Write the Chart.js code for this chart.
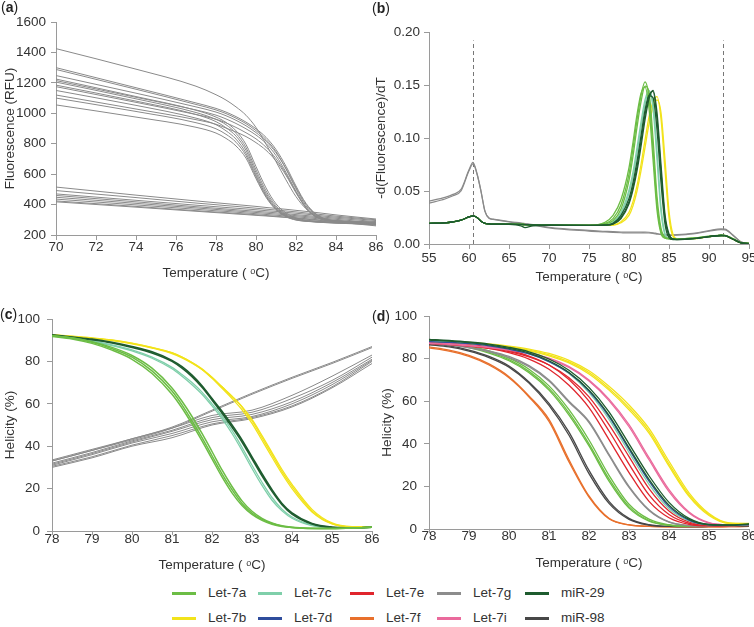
<!DOCTYPE html>
<html>
<head>
<meta charset="utf-8">
<script src="https://cdn.jsdelivr.net/npm/chart.js@4/dist/chart.umd.min.js"></script>
<style>
body { margin: 0; background: #fff; font-family: "Liberation Sans", Arial, sans-serif; }
#fig { position: relative; width: 754px; height: 627px; overflow: hidden; background: #fff; }
canvas { position: absolute; }
.tag { position: absolute; font-size: 14px; line-height: 14px; color: #222; }
.legLine { position: absolute; height: 3px; width: 24px; }
.legText { position: absolute; font-size: 13.5px; line-height: 16px; color: #333; }
</style>
</head>
<body>
<div id="fig">
  <canvas id="panelA" width="392" height="281" style="left:0;top:0"></canvas>
  <canvas id="panelB" width="390" height="285" style="left:373px;top:0"></canvas>
  <canvas id="panelC" width="392" height="283" style="left:0;top:290px"></canvas>
  <canvas id="panelD" width="390" height="281" style="left:373px;top:290px"></canvas>
  <div class="tag" style="left:1px;top:0px">(<b>a</b>)</div>
  <div class="tag" style="left:372px;top:1px">(<b>b</b>)</div>
  <div class="tag" style="left:0px;top:307px">(<b>c</b>)</div>
  <div class="tag" style="left:372px;top:309px">(<b>d</b>)</div>
  <div id="legend"></div>
</div>
<script>
// ---- (a) raw melting curves, fluorescence vs temperature
const aTemp = [70, 74, 77, 78, 78.5, 79, 79.5, 80, 80.5, 81, 81.5, 82, 82.5, 83, 83.5, 84, 86];
const aTop = [1425, 1290, 1178, 1122, 1087, 1042, 987, 907, 797, 682, 562, 452, 372, 322, 302, 292, 280];
const aEarly = [
  [1225, 1110, 1020, 975, 940, 885, 795, 650, 510, 405, 345, 312, 298, 292, 288, 285, 280],
  [1205, 1095, 1005, 960, 925, 868, 775, 628, 490, 392, 336, 307, 295, 290, 286, 283, 277],
  [1185, 1080, 992, 945, 905, 850, 757, 610, 475, 382, 330, 304, 293, 288, 284, 281, 274],
  [1150, 1052, 968, 925, 885, 830, 738, 594, 463, 375, 326, 302, 292, 287, 283, 280, 272],
  [1100, 1012, 938, 898, 862, 810, 722, 582, 455, 370, 323, 300, 291, 286, 282, 279, 270],
  [1055, 975, 908, 870, 835, 785, 705, 570, 448, 366, 320, 298, 290, 285, 281, 278, 268]
];
const aLate = [
  [1300, 1168, 1068, 1032, 1008, 978, 942, 898, 842, 762, 652, 522, 408, 338, 305, 295, 285],
  [1288, 1158, 1058, 1022, 998, 968, 932, 886, 828, 748, 634, 503, 392, 328, 300, 292, 283],
  [1248, 1132, 1042, 1008, 984, 954, 918, 873, 817, 740, 636, 512, 402, 334, 302, 293, 281],
  [1215, 1105, 1022, 988, 963, 933, 898, 857, 802, 722, 612, 487, 382, 322, 298, 290, 279],
  [1175, 1072, 992, 961, 937, 907, 872, 832, 777, 702, 601, 482, 380, 320, 297, 289, 277],
  [1120, 1028, 958, 928, 903, 877, 847, 807, 757, 687, 592, 477, 377, 318, 296, 288, 275]
];
const aLower = [
  [515, 462, 424, 412, 406, 400, 394, 388, 381, 375, 369, 362, 355, 348, 340, 332, 305],
  [492, 446, 410, 399, 393, 388, 382, 376, 370, 364, 358, 352, 345, 338, 331, 324, 300],
  [470, 428, 396, 386, 381, 376, 371, 366, 360, 355, 349, 343, 337, 330, 323, 317, 295],
  [460, 418, 386, 376, 371, 366, 361, 356, 351, 346, 340, 334, 328, 322, 316, 310, 288],
  [448, 408, 378, 368, 363, 358, 353, 348, 343, 338, 333, 327, 321, 315, 309, 303, 280],
  [436, 398, 369, 359, 355, 350, 345, 340, 335, 330, 325, 320, 314, 308, 302, 296, 272],
  [424, 388, 360, 351, 347, 342, 338, 333, 328, 323, 318, 313, 307, 301, 295, 289, 265],
  [418, 383, 356, 347, 343, 338, 334, 329, 325, 320, 315, 310, 304, 298, 292, 286, 260]
];

// ---- (b) derivative curves
const bTemp = [55, 57, 58, 59, 60, 60.5, 61, 61.5, 62, 62.5, 63, 65, 66.5, 67, 68, 70, 75,
  77, 78, 79, 80, 80.5, 81, 81.5, 82, 82.5, 83, 83.5, 84, 84.5, 85, 85.5, 86, 88, 90, 91.5, 92, 93, 94, 95];
const bGray = [
  [0.0405, 0.0440, 0.0468, 0.0515, 0.0700, 0.0770, 0.0665, 0.0500, 0.0310, 0.0245, 0.0235, 0.0212, 0.0198, 0.0193, 0.0183, 0.0158, 0.0128,
   0.0120, 0.0116, 0.0113, 0.0112, 0.0112, 0.0112, 0.0112, 0.0113, 0.0111, 0.0106, 0.0099, 0.0093, 0.0089, 0.0087, 0.0087, 0.0088, 0.0100, 0.0126, 0.0143, 0.0141, 0.0085, 0.0020, 0.0008],
  [0.0385, 0.0425, 0.0455, 0.0500, 0.0690, 0.0755, 0.0660, 0.0495, 0.0305, 0.0242, 0.0232, 0.0208, 0.0194, 0.0189, 0.0179, 0.0152, 0.0122,
   0.0113, 0.0109, 0.0106, 0.0104, 0.0104, 0.0104, 0.0104, 0.0105, 0.0104, 0.0100, 0.0094, 0.0088, 0.0084, 0.0082, 0.0082, 0.0083, 0.0095, 0.0120, 0.0135, 0.0134, 0.0080, 0.0018, 0.0006]
];
// shared low-temperature part (55..75) of the coloured curves
const bGreenBase = [0.0195, 0.0200, 0.0210, 0.0225, 0.0255, 0.0265, 0.0250, 0.0215, 0.0195, 0.0190, 0.0188, 0.0187, 0.0185, 0.0183, 0.0180, 0.0178, 0.0176];
const bDipBase = [0.0195, 0.0200, 0.0210, 0.0225, 0.0255, 0.0265, 0.0250, 0.0215, 0.0195, 0.0190, 0.0188, 0.0186, 0.0172, 0.0155, 0.0172, 0.0177, 0.0176];
// peak part (77..95)
const bLet7a = [
  [0.0195, 0.024, 0.037, 0.066, 0.090, 0.117, 0.140, 0.153, 0.138, 0.090, 0.038, 0.012, 0.0058, 0.0050, 0.0050, 0.0050, 0.0055, 0.0072, 0.0082, 0.0081, 0.0050, 0.0012, 0.0005],
  [0.0205, 0.027, 0.042, 0.072, 0.096, 0.122, 0.142, 0.148, 0.128, 0.080, 0.032, 0.010, 0.0055, 0.0050, 0.0050, 0.0050, 0.0055, 0.0070, 0.0080, 0.0079, 0.0048, 0.0011, 0.0005],
  [0.0190, 0.022, 0.033, 0.060, 0.083, 0.110, 0.134, 0.149, 0.143, 0.100, 0.045, 0.015, 0.0065, 0.0052, 0.0050, 0.0050, 0.0056, 0.0073, 0.0083, 0.0082, 0.0051, 0.0012, 0.0005]
];
const bLet7c = [
  [0.0180, 0.020, 0.028, 0.048, 0.064, 0.086, 0.110, 0.132, 0.144, 0.133, 0.088, 0.035, 0.010, 0.0050, 0.0045, 0.0045, 0.0052, 0.0070, 0.0080, 0.0079, 0.0047, 0.0011, 0.0004],
  [0.0180, 0.0205, 0.030, 0.051, 0.068, 0.091, 0.115, 0.136, 0.145, 0.128, 0.080, 0.030, 0.0085, 0.0048, 0.0045, 0.0045, 0.0052, 0.0070, 0.0080, 0.0079, 0.0047, 0.0011, 0.0004]
];
const bMir29 = [
  [0.0178, 0.0188, 0.024, 0.038, 0.051, 0.069, 0.092, 0.117, 0.137, 0.145, 0.124, 0.075, 0.028, 0.0095, 0.0048, 0.0043, 0.0050, 0.0070, 0.0080, 0.0078, 0.0045, 0.0010, 0.0004],
  [0.0178, 0.019, 0.025, 0.040, 0.054, 0.073, 0.097, 0.122, 0.140, 0.144, 0.118, 0.068, 0.024, 0.008, 0.0045, 0.0042, 0.0050, 0.0070, 0.0080, 0.0078, 0.0045, 0.0010, 0.0004],
  [0.0180, 0.0195, 0.027, 0.043, 0.058, 0.078, 0.102, 0.126, 0.140, 0.138, 0.108, 0.058, 0.019, 0.006, 0.0042, 0.0042, 0.0050, 0.0070, 0.0080, 0.0078, 0.0045, 0.0010, 0.0004]
];
const bLet7b = [
  [0.0178, 0.018, 0.021, 0.030, 0.040, 0.055, 0.075, 0.098, 0.120, 0.134, 0.139, 0.118, 0.070, 0.025, 0.007, 0.0045, 0.0050, 0.0070, 0.0080, 0.0078, 0.0045, 0.0010, 0.0004],
  [0.0178, 0.0178, 0.020, 0.027, 0.036, 0.050, 0.069, 0.091, 0.113, 0.129, 0.136, 0.124, 0.080, 0.031, 0.009, 0.0050, 0.0050, 0.0070, 0.0080, 0.0078, 0.0045, 0.0010, 0.0004]
];
const bMarkers = [60.5, 91.8];

// ---- (c) helicity, let-7a/b/c, miR-29 and controls
const cTemp = [78, 78.5, 79, 79.5, 80, 80.5, 81, 81.25, 81.5, 81.75, 82, 82.25, 82.5, 82.75, 83, 83.25, 83.5, 83.75, 84, 84.5, 85, 85.5, 86];
const cLet7a = [
  [92, 91, 89, 86, 82, 75.5, 66, 59.5, 52, 44, 35.5, 27, 19.5, 13, 8.5, 5.5, 3.5, 2.3, 1.7, 1.2, 1.2, 1.4, 1.8],
  [91.8, 90.6, 88.5, 85.3, 81, 74.3, 64.5, 58, 50.5, 42.5, 34, 25.5, 18, 12, 7.8, 5, 3.2, 2.1, 1.6, 1.2, 1.2, 1.4, 1.8],
  [92.2, 91.2, 89.3, 86.6, 82.8, 76.8, 67.5, 61.2, 54, 46, 37.5, 28.8, 21, 14.2, 9.3, 6, 3.8, 2.5, 1.8, 1.3, 1.2, 1.4, 1.8]
];
const cLet7c = [
  [92, 91, 89.5, 87.5, 85, 81.5, 76.5, 73, 69, 64.5, 59, 53, 46, 38, 29.5, 21.5, 14.5, 9.5, 6, 2.5, 1.5, 1.4, 1.8],
  [92.2, 91.3, 89.8, 87.8, 85.4, 82, 77.2, 73.8, 70, 65.5, 60, 54.2, 47.5, 39.5, 31, 23, 15.8, 10.3, 6.6, 2.8, 1.5, 1.4, 1.8]
];
const cMir29 = [
  [92.5, 91.5, 90.5, 89, 87, 84.5, 80.5, 77.5, 73.5, 68.5, 62.5, 56.5, 50, 43, 35, 27, 19.5, 13, 8.5, 3.5, 1.8, 1.5, 1.8],
  [92.3, 91.3, 90.2, 88.7, 86.6, 84, 80, 76.8, 72.8, 67.8, 61.8, 55.7, 49, 42, 34, 26, 18.7, 12.4, 8, 3.3, 1.7, 1.5, 1.8]
];
const cLet7b = [
  [92.5, 91.8, 91, 90, 88.5, 86.5, 84, 82, 79.5, 76.5, 72.5, 68, 63.5, 58.5, 52, 44, 36, 28, 21, 9.5, 3.5, 2, 2],
  [92.3, 91.6, 90.8, 89.8, 88.3, 86.3, 83.7, 81.7, 79.2, 76.2, 72.4, 68, 63.6, 58.7, 52.6, 45, 37, 29, 22, 10.2, 3.8, 2.1, 2],
  [92.6, 91.9, 91.1, 90.1, 88.6, 86.6, 84.1, 82, 79.4, 76.2, 72, 67.3, 62.5, 57.2, 50.8, 42.8, 34.8, 27, 20, 9, 3.3, 1.9, 2]
];
const cGrayTemp = [78, 79, 80, 81, 82, 83, 84, 85, 86];
const cGray = [
  [33.5, 38.5, 43.5, 49, 57, 65, 72.5, 79.5, 87],
  [33, 38, 43, 48.5, 56.5, 64.5, 72, 79, 86.5],
  [33, 38, 43.5, 48.5, 54.5, 57, 64, 73, 83],
  [32, 37, 42.5, 47.5, 53.5, 56, 62.5, 71, 82],
  [31.5, 36.5, 42, 47, 52.5, 55, 61, 70, 81],
  [31, 36, 41.5, 46, 51.5, 54, 60, 69, 80.5],
  [30.5, 35, 40.5, 45, 50.5, 53.5, 59, 68, 80],
  [30, 34.5, 40, 44, 50, 53, 58.5, 67.5, 79]
];

// ---- (d) helicity, all sequences
const dTemp = [78, 78.5, 79, 79.5, 80, 80.5, 81, 81.5, 82, 82.5, 83, 83.5, 84, 84.5, 85, 85.5, 86];
const dLet7f = [
  [85.5, 84, 81.5, 77.5, 71.5, 62.5, 51.5, 32.5, 15.5, 5, 2, 1.2, 1, 1, 1, 1.1, 1.2],
  [85, 83.5, 81, 77, 71, 62, 50.5, 31.5, 15, 4.8, 1.9, 1.2, 1, 1, 1, 1.1, 1.2]
];
const dMir98 = [
  [87, 86, 84, 81, 76.5, 69, 59, 45.5, 27.5, 13, 5, 2, 1.2, 1.1, 1.2, 1.3, 1.5],
  [86.5, 85.5, 83.5, 80.5, 76, 68.5, 58, 44, 26, 12, 4.5, 1.8, 1.2, 1.1, 1.2, 1.3, 1.5]
];
const dLet7a = [
  [88, 87, 85.5, 83, 79.5, 74, 66, 54.5, 40, 23.5, 10.5, 4, 1.8, 1.3, 1.3, 1.5, 1.8],
  [88.5, 87.5, 86, 83.6, 80.2, 75, 67.2, 56, 41.8, 25.2, 11.6, 4.6, 2, 1.4, 1.3, 1.5, 1.8],
  [87.8, 86.7, 85.2, 82.6, 79, 73.4, 65.2, 53.5, 39, 22.5, 9.8, 3.7, 1.7, 1.3, 1.3, 1.5, 1.8]
];
const dLet7g = [
  [87.5, 86.6, 85.4, 83.6, 81, 76.7, 70, 60, 50.5, 35, 20, 9, 3.3, 1.6, 1.3, 1.5, 1.8],
  [87.2, 86.3, 85, 83.2, 80.5, 76.2, 69.5, 59.5, 50, 34.5, 19.5, 8.7, 3.2, 1.6, 1.3, 1.5, 1.8]
];
const dLet7e = [
  [87.8, 87.5, 86.7, 85.5, 83.8, 81.2, 77, 70.2, 60, 46, 30.5, 16, 6.8, 2.7, 1.7, 1.5, 1.8],
  [87.3, 86.8, 86, 84.8, 82.8, 79.8, 75, 67.5, 57, 42, 26.5, 13, 5.3, 2.2, 1.5, 1.5, 1.8],
  [87, 86.6, 85.9, 84.8, 83.3, 80.8, 77, 71, 62, 49, 34, 19, 8.5, 3.3, 1.8, 1.5, 1.8]
];
const dLet7c = [[88.3, 87.8, 87.2, 86.2, 84.6, 82.3, 78.6, 73, 64, 51.5, 36, 21, 9.5, 3.8, 1.9, 1.6, 2]];
const dLet7d = [[88, 87.6, 87, 86, 84.4, 82.2, 78.6, 73.2, 64.8, 52.8, 37.5, 22.5, 10.5, 4.2, 2, 1.7, 2.1]];
const dMir29 = [
  [89, 88.5, 87.8, 86.8, 85.3, 83.2, 79.8, 74.5, 66.5, 55, 40, 25, 12.5, 5, 2.2, 1.9, 2.4],
  [88.7, 88.2, 87.5, 86.4, 84.8, 82.6, 79, 73.5, 65.2, 53.4, 38.2, 23.3, 11.2, 4.5, 2, 1.8, 2.3]
];
const dLet7i = [
  [87.5, 87, 86.3, 85.5, 84.3, 82.7, 80.2, 76.2, 70, 61, 49, 33.5, 18.5, 8, 3, 2, 2.2],
  [87.2, 86.7, 86, 85.2, 84, 82.3, 79.8, 75.8, 69.5, 60.3, 48, 32.5, 17.5, 7.5, 2.8, 2, 2.2]
];
const dLet7b = [
  [88.5, 88, 87.4, 86.6, 85.5, 84, 81.8, 78.5, 73.5, 66, 57, 46, 30.5, 16, 6.8, 2.7, 2.5],
  [88.2, 87.7, 87.1, 86.3, 85.2, 83.6, 81.3, 78, 72.8, 65.2, 56, 45, 29.5, 15.3, 6.3, 2.5, 2.4],
  [88.7, 88.2, 87.6, 86.9, 85.9, 84.5, 82.4, 79.2, 74.3, 67, 58.2, 47.2, 31.8, 17, 7.3, 2.9, 2.6]
];

// ---- legend
const legendNames = ['Let-7a', 'Let-7b', 'Let-7c', 'Let-7d', 'Let-7e', 'Let-7f', 'Let-7g', 'Let-7i', 'miR-29', 'miR-98'];

const COL = {
  'Let-7a': '#6cbd45', 'Let-7b': '#f2e31b', 'Let-7c': '#7fcfaa', 'Let-7d': '#2f4d9c',
  'Let-7e': '#e0252d', 'Let-7f': '#e8702c', 'Let-7g': '#8c8c8c', 'Let-7i': '#ea6a9c',
  'miR-29': '#1e5c2f', 'miR-98': '#474747'
};
const GRAY = '#8a8a8a';
const AXIS = '#9a9a9a';
const TEXT = '#333';
const FONT = '"Liberation Sans", Arial, sans-serif';
Chart.defaults.font.family = FONT;
Chart.defaults.font.size = 13.5;

function line(temps, vals, color, width) {
  return {
    data: temps.map((t, i) => ({ x: t, y: vals[i] })),
    borderColor: color,
    borderWidth: width,
    pointRadius: 0,
    fill: false,
    cubicInterpolationMode: 'monotone'
  };
}

function panelOptions(p) {
  const f = { family: FONT, size: 13.5 };
  return {
    responsive: false,
    animation: false,
    events: [],
    layout: { padding: { top: p.padTop, right: p.padRight, left: 0, bottom: 0 } },
    plugins: { legend: { display: false }, tooltip: { enabled: false }, vlines: p.vlines || {} },
    scales: {
      x: {
        type: 'linear', min: p.x[0], max: p.x[1],
        ticks: { stepSize: p.x[2], font: f, color: TEXT, padding: p.xPad, maxRotation: 0, autoSkip: false, callback: v => String(v) },
        grid: { drawOnChartArea: false, tickLength: p.xTick, color: AXIS },
        border: { color: AXIS },
        title: { display: true, text: 'Temperature ( \u1D52C)', font: f, color: TEXT, padding: 0 },
        afterFit: s => { s.height = p.xHeight; }
      },
      y: {
        type: 'linear', min: p.y[0], max: p.y[1],
        ticks: { stepSize: p.y[2], font: f, color: TEXT, padding: p.yPad, callback: p.yFmt || (v => String(v)) },
        grid: { drawOnChartArea: false, tickLength: p.yTick, color: AXIS },
        border: { color: AXIS },
        title: { display: true, text: p.yTitle, font: f, color: TEXT, padding: { top: p.yTitlePad, bottom: 0 } },
        afterFit: s => { s.width = p.yWidth; }
      }
    }
  };
}

// dashed vertical markers for panel (b)
const vlines = {
  id: 'vlines',
  beforeDatasetsDraw(chart, args, opts) {
    if (!opts.at) return;
    const { ctx, scales: { x, y } } = chart;
    ctx.save();
    ctx.strokeStyle = '#777';
    ctx.lineWidth = 1;
    ctx.setLineDash([4, 3]);
    opts.at.forEach(v => {
      const px = Math.round(x.getPixelForValue(v)) + 0.5;
      ctx.beginPath();
      ctx.moveTo(px, y.getPixelForValue(0));
      ctx.lineTo(px, y.getPixelForValue(opts.top));
      ctx.stroke();
    });
    ctx.restore();
  }
};

// Chart.js paints the first dataset on top, so each list is built bottom-up and then reversed

// panel (a)
const dsA = [];
aLower.forEach(v => dsA.push(line(aTemp, v, GRAY, 1)));
aEarly.forEach(v => dsA.push(line(aTemp, v, GRAY, 1)));
aLate.forEach(v => dsA.push(line(aTemp, v, GRAY, 1)));
dsA.push(line(aTemp, aTop, GRAY, 1));
new Chart(document.getElementById('panelA'), {
  type: 'line',
  data: { datasets: dsA.reverse() },
  options: panelOptions({
    x: [70, 86, 2], y: [200, 1600, 200], yTitle: 'Fluorescence (RFU)',
    padTop: 22, padRight: 16, xHeight: 46, yWidth: 56,
    xTick: 5, xPad: -1, yTick: 5, yPad: 5, yTitlePad: 2
  })
});

// panel (b)
const dsB = [];
bGray.forEach(v => dsB.push(line(bTemp, v, GRAY, 1.2)));
bLet7b.forEach(v => dsB.push(line(bTemp, bGreenBase.concat(v), COL['Let-7b'], 1.3)));
bLet7c.forEach(v => dsB.push(line(bTemp, bGreenBase.concat(v), COL['Let-7c'], 1.3)));
bLet7a.forEach(v => dsB.push(line(bTemp, bGreenBase.concat(v), COL['Let-7a'], 1.3)));
bMir29.forEach((v, i) => dsB.push(line(bTemp, (i === 0 ? bDipBase : bGreenBase).concat(v), COL['miR-29'], 1.3)));
new Chart(document.getElementById('panelB'), {
  type: 'line',
  data: { datasets: dsB.reverse() },
  options: panelOptions({
    x: [55, 95, 5], y: [0, 0.2, 0.05], yTitle: '-d(Fluorescence)/dT', yFmt: v => v.toFixed(2),
    padTop: 32, padRight: 14, xHeight: 41, yWidth: 56,
    xTick: 5, xPad: 1, yTick: 5, yPad: 4, yTitlePad: 0,
    vlines: { at: bMarkers, top: 0.192 }
  }),
  plugins: [vlines]
});

// panel (c)
const dsC = [];
cGray.forEach(v => dsC.push(line(cGrayTemp, v, GRAY, 1)));
cLet7b.forEach(v => dsC.push(line(cTemp, v, COL['Let-7b'], 1.3)));
cLet7c.forEach(v => dsC.push(line(cTemp, v, COL['Let-7c'], 1.3)));
cMir29.forEach(v => dsC.push(line(cTemp, v, COL['miR-29'], 1.6)));
cLet7a.forEach(v => dsC.push(line(cTemp, v, COL['Let-7a'], 1.5)));
new Chart(document.getElementById('panelC'), {
  type: 'line',
  data: { datasets: dsC.reverse() },
  options: panelOptions({
    x: [78, 86, 1], y: [0, 100, 20], yTitle: 'Helicity (%)',
    padTop: 29, padRight: 20, xHeight: 42, yWidth: 52,
    xTick: 4, xPad: -4, yTick: 5, yPad: 7, yTitlePad: 2
  })
});

// panel (d)
const dsD = [];
[[dLet7f, 'Let-7f'], [dMir98, 'miR-98'], [dLet7a, 'Let-7a'], [dLet7g, 'Let-7g'], [dLet7e, 'Let-7e'],
 [dLet7i, 'Let-7i'], [dLet7b, 'Let-7b'], [dLet7c, 'Let-7c'], [dLet7d, 'Let-7d'], [dMir29, 'miR-29']]
  .forEach(([set, name]) => set.forEach(v => dsD.push(line(dTemp, v, COL[name], 1.3))));
new Chart(document.getElementById('panelD'), {
  type: 'line',
  data: { datasets: dsD.reverse() },
  options: panelOptions({
    x: [78, 86, 1], y: [0, 100, 20], yTitle: 'Helicity (%)',
    padTop: 26, padRight: 14, xHeight: 42, yWidth: 56,
    xTick: 4, xPad: -5, yTick: 5, yPad: 7, yTitlePad: 6
  })
});

// legend: two rows, five columns
const legColX = [172, 258, 350, 437, 525];
const legRowY = [593, 618];
const leg = document.getElementById('legend');
legendNames.forEach((name, i) => {
  const col = Math.floor(i / 2), row = i % 2;
  const ln = document.createElement('div');
  ln.className = 'legLine';
  ln.style.left = legColX[col] + 'px';
  ln.style.top = (legRowY[row] - 1) + 'px';
  ln.style.background = COL[name];
  leg.appendChild(ln);
  const tx = document.createElement('div');
  tx.className = 'legText';
  tx.style.left = (legColX[col] + 36) + 'px';
  tx.style.top = (legRowY[row] - 8) + 'px';
  tx.textContent = name;
  leg.appendChild(tx);
});
</script>
</body>
</html>
